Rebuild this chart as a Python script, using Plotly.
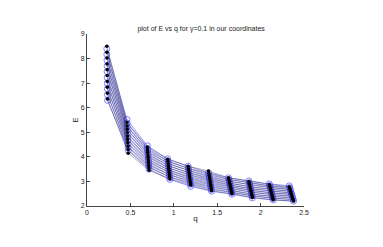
import plotly.graph_objects as go

# q values: rows = curves (top to bottom), columns = q steps
q_table = [
    [0.228, 0.460, 0.695, 0.930, 1.165, 1.400, 1.630, 1.865, 2.100, 2.330],
    [0.229, 0.462, 0.697, 0.933, 1.168, 1.404, 1.634, 1.869, 2.105, 2.336],
    [0.230, 0.463, 0.699, 0.936, 1.172, 1.408, 1.639, 1.874, 2.110, 2.341],
    [0.231, 0.465, 0.702, 0.938, 1.175, 1.412, 1.643, 1.878, 2.115, 2.347],
    [0.232, 0.467, 0.704, 0.941, 1.178, 1.416, 1.648, 1.883, 2.120, 2.352],
    [0.232, 0.468, 0.706, 0.944, 1.182, 1.419, 1.652, 1.887, 2.125, 2.358],
    [0.233, 0.470, 0.708, 0.947, 1.185, 1.423, 1.657, 1.892, 2.130, 2.363],
    [0.234, 0.472, 0.711, 0.949, 1.188, 1.427, 1.661, 1.896, 2.135, 2.369],
    [0.235, 0.473, 0.713, 0.952, 1.192, 1.431, 1.666, 1.901, 2.140, 2.374],
    [0.236, 0.475, 0.715, 0.955, 1.195, 1.435, 1.670, 1.905, 2.145, 2.380],
]

# E values per column (list per q column, curves top to bottom)
E_black_cols = [
    [8.50, 8.26, 8.02, 7.78, 7.54, 7.31, 7.07, 6.83, 6.59, 6.35],
    [5.40, 5.26, 5.12, 4.98, 4.84, 4.71, 4.57, 4.43, 4.29, 4.15],
    [4.40, 4.29, 4.19, 4.08, 3.98, 3.87, 3.77, 3.66, 3.56, 3.45],
    [3.90, 3.81, 3.72, 3.63, 3.54, 3.46, 3.37, 3.28, 3.19, 3.10],
    [3.62, 3.53, 3.45, 3.36, 3.28, 3.19, 3.11, 3.02, 2.94, 2.85],
    [3.42, 3.33, 3.24, 3.15, 3.06, 2.98, 2.89, 2.80, 2.71, 2.62],
    [3.15, 3.08, 3.01, 2.93, 2.86, 2.79, 2.72, 2.64, 2.57, 2.50],
    [3.00, 2.93, 2.86, 2.78, 2.71, 2.64, 2.57, 2.49, 2.42, 2.35],
    [2.88, 2.81, 2.74, 2.67, 2.60, 2.53, 2.46, 2.39, 2.32, 2.25],
    [2.78, 2.72, 2.65, 2.59, 2.52, 2.46, 2.39, 2.33, 2.26, 2.20],
]
E_blue_cols = [
    [8.40, 8.17, 7.93, 7.70, 7.47, 7.23, 7.00, 6.77, 6.53, 6.30],
    [5.52, 5.38, 5.24, 5.10, 4.96, 4.81, 4.67, 4.53, 4.39, 4.25],
    [4.45, 4.34, 4.24, 4.13, 4.03, 3.92, 3.82, 3.71, 3.61, 3.50],
    [3.92, 3.83, 3.73, 3.64, 3.55, 3.45, 3.36, 3.27, 3.17, 3.08],
    [3.62, 3.53, 3.44, 3.35, 3.26, 3.16, 3.07, 2.98, 2.89, 2.80],
    [3.35, 3.27, 3.18, 3.10, 3.02, 2.93, 2.85, 2.77, 2.68, 2.60],
    [3.15, 3.08, 3.00, 2.93, 2.85, 2.78, 2.70, 2.63, 2.55, 2.48],
    [3.02, 2.94, 2.87, 2.79, 2.71, 2.64, 2.56, 2.48, 2.41, 2.33],
    [2.90, 2.83, 2.76, 2.68, 2.61, 2.54, 2.47, 2.39, 2.32, 2.25],
    [2.82, 2.75, 2.68, 2.61, 2.54, 2.48, 2.41, 2.34, 2.27, 2.20],
]

x_ticks = [0, 0.5, 1, 1.5, 2, 2.5]
x_tick_labels = ["0", "0.5", "1", "1.5", "2", "2.5"]
y_ticks = [2, 3, 4, 5, 6, 7, 8, 9]
y_tick_labels = ["2", "3", "4", "5", "6", "7", "8", "9"]

fig = go.Figure()
n_curves = len(q_table)
n_cols = len(E_black_cols)

for i in range(n_curves):
    fig.add_trace(go.Scatter(
        x=q_table[i], y=[E_blue_cols[c][i] for c in range(n_cols)],
        mode="lines+markers",
        line=dict(color="rgba(0,0,255,0.7)", width=0.6),
        marker=dict(symbol="circle-open", size=6, color="rgba(70,70,255,0.85)", line=dict(width=0.8)),
        showlegend=False, hoverinfo="skip"))

for i in range(n_curves):
    fig.add_trace(go.Scatter(
        x=q_table[i], y=[E_black_cols[c][i] for c in range(n_cols)],
        mode="lines+markers",
        line=dict(color="rgba(40,40,40,0.75)", width=0.5),
        marker=dict(symbol="circle", size=3.5, color="black"),
        showlegend=False, hoverinfo="skip"))

axis_common = dict(
    showgrid=False, zeroline=False, showline=True, linecolor="#444",
    linewidth=0.8, ticks="inside", ticklen=3, tickcolor="#444",
    tickfont=dict(size=7, color="#222", family="Liberation Sans"),
)

# The page body has an 8px default margin, so the figure is drawn offset by 8px.
fig.update_layout(
    width=375, height=239,
    margin=dict(l=79, r=79, t=26, b=41),
    paper_bgcolor="white", plot_bgcolor="white",
    title=dict(text="plot of E vs q for γ=0.1 in our coordinates",
               xref="container", x=0.515, xanchor="center",
               yref="container", y=0.913, yanchor="middle",
               font=dict(size=7, color="#222", family="Liberation Sans")),
    xaxis=dict(range=[0, 2.5], tickvals=x_ticks, ticktext=x_tick_labels,
               title=dict(text="q", font=dict(size=8, color="#222", family="Liberation Sans"), standoff=0),
               **axis_common),
    yaxis=dict(range=[2, 9], tickvals=y_ticks, ticktext=y_tick_labels,
               title=dict(text="E", font=dict(size=8, color="#222", family="Liberation Sans"), standoff=0),
               **axis_common),
)

fig.write_html("out.html")
